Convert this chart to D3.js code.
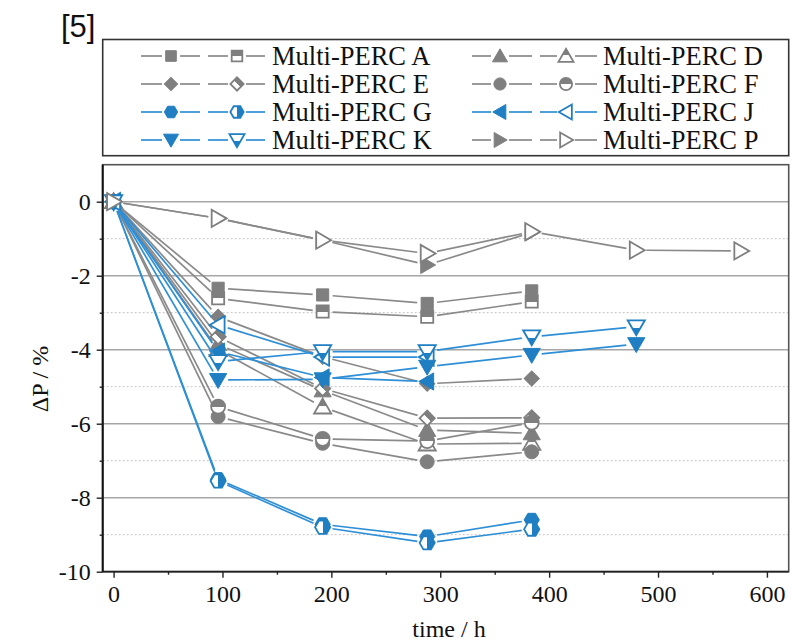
<!DOCTYPE html>
<html><head><meta charset="utf-8">
<script src="https://cdn.jsdelivr.net/npm/d3@7"></script>
<style>body{margin:0;background:#fff;} svg{display:block;} text{font-family:'Liberation Serif','Times New Roman',serif;}</style>
</head><body><svg id="c" width="810" height="643"></svg>
<script>
const times = [0, 96, 192, 288, 384, 480, 576];
const seriesNames = ["Multi-PERC A","Multi-PERC D","Multi-PERC E","Multi-PERC F","Multi-PERC G","Multi-PERC J","Multi-PERC K","Multi-PERC P"];
const A_filled = [0, -2.34, -2.52, -2.75, -2.41];
const A_open   = [0, -2.61, -2.97, -3.11, -2.70];
const D_filled = [0, -3.85, -5.10, -6.17, -6.26];
const D_open   = [0, -4.00, -5.55, -6.55, -6.53];
const E_filled = [0, -3.11, -4.19, -4.92, -4.78];
const E_open   = [0, -3.65, -5.05, -5.85, -5.84];
const F_filled = [0, -5.81, -6.53, -7.03, -6.76];
const F_open   = [0, -5.54, -6.41, -6.47, -5.97];
const G_filled = [0, -7.50, -8.72, -9.05, -8.60];
const G_open   = [0, -7.55, -8.80, -9.22, -8.85];
const J_filled = [0, -4.05, -4.75, -4.86];
const J_open   = [0, -3.33, -4.20, -4.20];
const K_filled = [0, -4.82, -4.80, -4.46, -4.14, -3.85];
const K_open   = [0, -4.32, -4.05, -4.05, -3.65, -3.38];
const P_filled = [0, -0.45, -1.04, -1.71, -0.83];
const P_open   = [0, -0.45, -1.04, -1.40, -0.81, -1.31, -1.33];
const yTicks = [0, -2, -4, -6, -8, -10];
const xTicks = [0, 100, 200, 300, 400, 500, 600];

const GRAY = "#7f7f7f", GRAYL = "#8a8a8a", BLUE = "#1f7fc2", BLUEL = "#2e8fd6";
const SERIF = "'Liberation Serif','Times New Roman',serif";
const shapes = {A:"square", D:"up", E:"diamond", F:"circle", G:"hex", J:"left", K:"down", P:"right"};
const colorOf = {A:GRAY, D:GRAY, E:GRAY, F:GRAY, G:BLUE, J:BLUE, K:BLUE, P:GRAY};
const lineOf = {A:GRAYL, D:GRAYL, E:GRAYL, F:GRAYL, G:BLUEL, J:BLUEL, K:BLUEL, P:GRAYL};
const dataOf = {A:[A_filled,A_open], D:[D_filled,D_open], E:[E_filled,E_open], F:[F_filled,F_open],
  G:[G_filled,G_open], J:[J_filled,J_open], K:[K_filled,K_open], P:[P_filled,P_open]};
const keys = ["A","D","E","F","G","J","K","P"];

const svg = d3.select("#c");
const x = d3.scaleLinear([-10, 620], [102.7, 788.7]);
const y = d3.scaleLinear([-10, 1], [571.7, 164.7]);

const defs = svg.append("defs");
[["g-gray",GRAY],["g-blue",BLUE]].forEach(([id,c])=>{
  const g = defs.append("linearGradient").attr("id",id).attr("x1",0).attr("y1",0).attr("x2",0).attr("y2",1);
  g.append("stop").attr("offset","0.5").attr("stop-color",c);
  g.append("stop").attr("offset","0.5").attr("stop-color","#fff");
});

function shapePath(s, r){
  const tri = d3.symbol().type(d3.symbolTriangle).size(r*r*2.0)();
  switch(s){
    case "square": return {d:d3.symbol().type(d3.symbolSquare).size(r*r*2.3)(), rot:0};
    case "diamond": return {d:d3.symbol().type(d3.symbolSquare).size(r*r*1.8)(), rot:45};
    case "circle": return {d:d3.symbol().type(d3.symbolCircle).size(r*r*2.4)(), rot:0};
    case "up": return {d:tri, rot:0, dy:1.5};
    case "down": return {d:tri, rot:180, dy:-1.5};
    case "left": return {d:tri, rot:-90, dx:1.5};
    case "right": return {d:tri, rot:90, dx:-1.5};
    case "hex": {
      const R = r*0.95, pts=[];
      for(let i=0;i<6;i++){const a=Math.PI/6+i*Math.PI/3; pts.push([R*Math.cos(a),R*Math.sin(a)]);}
      return {d:"M"+pts.map(p=>p.join(",")).join("L")+"Z", rot:90};
    }
  }
}
function drawMarker(g, k, filled, cx, cy, r){
  const sp = shapePath(shapes[k], r);
  const c = colorOf[k];
  let fill;
  if(filled) fill = c;
  else if(k==="P"||k==="J") fill = "#fff";
  else fill = (c===GRAY) ? "url(#g-gray)" : "url(#g-blue)";
  g.append("path").attr("d", sp.d)
    .attr("transform", `translate(${cx+(sp.dx||0)},${cy+(sp.dy||0)}) rotate(${sp.rot})`)
    .attr("fill", fill).attr("stroke", c).attr("stroke-width", filled?1:1.8);
}

const grid = svg.append("g");
d3.range(-9, 1, 2).forEach(v=>{
  grid.append("line").attr("x1",102.7).attr("x2",788.7).attr("y1",y(v)).attr("y2",y(v))
    .attr("stroke","#c4c4c4").attr("stroke-width",1).attr("stroke-dasharray","2,2");
});
yTicks.slice(0,5).forEach(v=>{
  grid.append("line").attr("x1",102.7).attr("x2",788.7).attr("y1",y(v)).attr("y2",y(v))
    .attr("stroke","#a6a6a6").attr("stroke-width",1.5);
});

svg.append("rect").attr("x",102.7).attr("y",164.7).attr("width",686).attr("height",407)
  .attr("fill","none").attr("stroke","#555").attr("stroke-width",1.6);

const fmt = d => String(d);
const gx = svg.append("g").attr("transform","translate(0,571.7)")
  .call(d3.axisBottom(x).tickValues(xTicks).tickSize(6).tickPadding(7).tickFormat(fmt));
svg.append("g").attr("transform","translate(0,571.7)").call(d3.axisBottom(x).tickValues(d3.range(50,620,100)).tickSize(3).tickFormat(""))
  .call(g=>g.select(".domain").remove());
const gy = svg.append("g").attr("transform","translate(102.7,0)")
  .call(d3.axisLeft(y).tickValues(yTicks).tickSize(6).tickPadding(6).tickFormat(fmt));
svg.append("g").attr("transform","translate(102.7,0)").call(d3.axisLeft(y).tickValues(d3.range(-9,1,2)).tickSize(3).tickFormat(""))
  .call(g=>g.select(".domain").remove());
svg.selectAll("g").attr("font-family", null);
svg.selectAll(".tick line").attr("stroke","#222").attr("stroke-width",1.4);
gx.select(".domain").attr("stroke","#222").attr("stroke-width",1.8).attr("d","M102.7,0H788.7");
gy.select(".domain").attr("stroke","#111").attr("stroke-width",2).attr("d","M0,164.7V571.7");
svg.selectAll(".tick text").style("font-family",SERIF).style("font-size","24px").attr("fill","#111");
gx.selectAll(".tick text").attr("dy","0.72em");

svg.append("text").attr("x",449).attr("y",637).attr("text-anchor","middle")
  .style("font-family",SERIF).style("font-size","24px").attr("fill","#111").text("time / h");
svg.append("text").attr("transform","translate(48,379) rotate(-90)").attr("text-anchor","middle")
  .style("font-family",SERIF).style("font-size","24px").attr("fill","#111").text("ΔP / %");

const plot = svg.append("g");
const R = 8;
keys.forEach(k=>{
  dataOf[k].forEach((vals, idx)=>{
    const pts = vals.map((v,i)=>[x(times[i]), y(v)]);
    const g = plot.append("g");
    for(let i=0;i<pts.length-1;i++){
      const [x0,y0]=pts[i],[x1,y1]=pts[i+1];
      const L = Math.hypot(x1-x0,y1-y0), gap = R+2;
      if(L<2*gap) continue;
      const ux=(x1-x0)/L, uy=(y1-y0)/L;
      g.append("line").attr("x1",x0+ux*gap).attr("y1",y0+uy*gap).attr("x2",x1-ux*gap).attr("y2",y1-uy*gap)
        .attr("stroke",lineOf[k]).attr("stroke-width",1.7);
    }
    pts.forEach(p=>drawMarker(g,k,idx===0,p[0],p[1],R));
  });
});

svg.append("rect").attr("x",102.7).attr("y",39.5).attr("width",686).attr("height",116.2)
  .attr("fill","none").attr("stroke","#333").attr("stroke-width",1.6);
const legOrder = [["A","D"],["E","F"],["G","J"],["K","P"]];
const rowsY = [56, 84, 112, 140];
const cols = [{l1:[141,200],m1:171,l2:[208,265],m2:237,t:272},{l1:[472,532],m1:500,l2:[540,597],m2:566,t:603}];
const RL = 7;
legOrder.forEach((row,ri)=>{
  row.forEach((k,ci)=>{
    const c = cols[ci], yy = rowsY[ri];
    const g = svg.append("g");
    [[c.l1,c.m1,true],[c.l2,c.m2,false]].forEach(([l,m,f])=>{
      g.append("line").attr("x1",l[0]).attr("x2",m-RL-2).attr("y1",yy).attr("y2",yy).attr("stroke",lineOf[k]).attr("stroke-width",1.7);
      g.append("line").attr("x1",m+RL+2).attr("x2",l[1]).attr("y1",yy).attr("y2",yy).attr("stroke",lineOf[k]).attr("stroke-width",1.7);
      drawMarker(g,k,f,m,yy,RL);
    });
    g.append("text").attr("x",c.t).attr("y",yy+8.5).style("font-family",SERIF)
      .style("font-size","26.5px").attr("fill","#111").text(seriesNames[keys.indexOf(k)]);
  });
});

svg.append("text").attr("x",61).attr("y",37).style("font-family","'Liberation Sans', Arial, sans-serif")
  .style("font-size","31px").attr("fill","#111").text("[5]");
</script></body></html>
